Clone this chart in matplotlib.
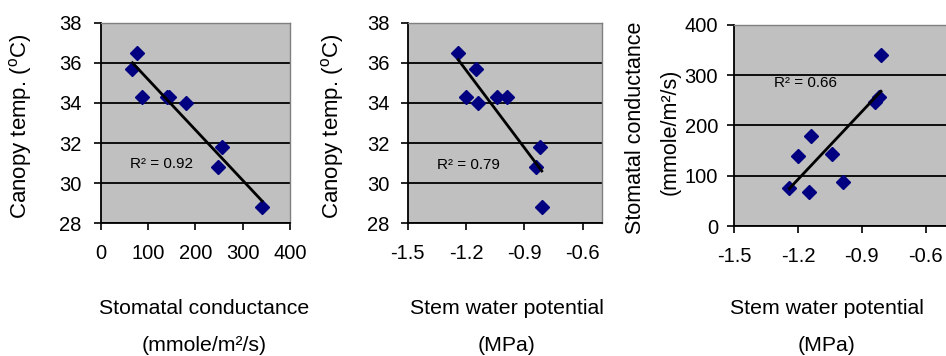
import numpy as np
import matplotlib
matplotlib.use("Agg")
from matplotlib import pyplot as plt

plt.rcParams['font.family'] = ['Liberation Sans', 'DejaVu Sans']
plt.rcParams['mathtext.fontset'] = 'custom'
plt.rcParams['mathtext.rm'] = 'Liberation Sans'
plt.rcParams['mathtext.it'] = 'Liberation Sans'

# measured samples (one per plant)
stem_water_potential = [-1.24, -1.20, -1.15, -1.14, -1.04, -0.99, -0.84, -0.82, -0.81]   # MPa
stomatal_conductance = [76, 140, 67, 180, 144, 88, 247, 256, 341]                         # mmole/m2/s
canopy_temp = [36.5, 34.3, 35.7, 34.0, 34.3, 34.3, 30.8, 31.8, 28.8]                       # degC

r2_labels = ["R² = 0.92", "R² = 0.79", "R² = 0.66"]

W, H = 946, 356
fig = plt.figure(figsize=(W / 100, H / 100), dpi=100)


def px_axes(left, top, right, bottom):
    return fig.add_axes([left / W, 1 - bottom / H, (right - left) / W, (bottom - top) / H])


def style(ax, ypad):
    ax.set_facecolor('#c0c0c0')
    for s in ['top', 'right']:
        ax.spines[s].set_color('#808080')
        ax.spines[s].set_linewidth(1.0)
    for s in ['left', 'bottom']:
        ax.spines[s].set_color('black')
        ax.spines[s].set_linewidth(1.3)
    ax.grid(axis='y', color='black', linewidth=1.3)
    ax.set_axisbelow(True)
    ax.tick_params(axis='x', direction='out', length=5, width=1.2, pad=10, labelsize=14.5)
    ax.tick_params(axis='y', direction='out', length=5, width=1.2, pad=ypad, labelsize=14.5)


def scatter_fit(ax, x, y, label, lx, ly):
    x = np.array(x)
    y = np.array(y)
    ax.plot(x, y, 'D', color='#000080', markersize=7, zorder=3, clip_on=False)
    k, b = np.polyfit(x, y, 1)
    xs = np.array([x.min(), x.max()])
    ax.plot(xs, k * xs + b, color='black', linewidth=2.0, zorder=4)
    ax.text(lx, ly, label, fontsize=11, va='center', ha='left', zorder=5)


# panel 1: canopy temp vs stomatal conductance
ax1 = px_axes(100.7, 22.7, 290, 223.3)
style(ax1, 9)
scatter_fit(ax1, stomatal_conductance, canopy_temp, r2_labels[0], 62, 30.95)
ax1.set_xlim(0, 400)
ax1.set_ylim(28, 38)
ax1.set_xticks([0, 100, 200, 300, 400])
ax1.set_yticks([28, 30, 32, 34, 36, 38])

# panel 2: canopy temp vs stem water potential
ax2 = px_axes(407.7, 22.7, 602, 223.3)
style(ax2, 8)
scatter_fit(ax2, stem_water_potential, canopy_temp, r2_labels[1], -1.35, 30.9)
ax2.set_xlim(-1.5, -0.5)
ax2.set_ylim(28, 38)
ax2.set_xticks([-1.5, -1.2, -0.9, -0.6])
ax2.set_xticklabels(['-1.5', '-1.2', '-0.9', '-0.6'])
ax2.set_yticks([28, 30, 32, 34, 36, 38])

# panel 3: stomatal conductance vs stem water potential
ax3 = px_axes(734, 25, 947, 226)
style(ax3, 6.5)
scatter_fit(ax3, stem_water_potential, stomatal_conductance, r2_labels[2], -1.31, 284)
ax3.set_xlim(-1.5, -0.5)
ax3.set_ylim(0, 400)
ax3.set_xticks([-1.5, -1.2, -0.9, -0.6])
ax3.set_xticklabels(['-1.5', '-1.2', '-0.9', '-0.6'])
ax3.set_yticks([0, 100, 200, 300, 400])

fs = 16
ylab = 'Canopy temp. ($^{\\mathrm{o}}$C)'
fig.text(21 / W, 1 - 126 / H, ylab, rotation=90, fontsize=fs, ha='center', va='center')
fig.text(332 / W, 1 - 126 / H, ylab, rotation=90, fontsize=fs, ha='center', va='center')
fig.text(635 / W, 1 - 128 / H, 'Stomatal conductance', rotation=90, fontsize=15.5, ha='center', va='center')
fig.text(670 / W, 1 - 132 / H, '(mmole/m²/s)', rotation=90, fontsize=15.5, ha='center', va='center')

xlabels = [('Stomatal conductance', '(mmole/m²/s)', 204),
           ('Stem water potential', '(MPa)', 507),
           ('Stem water potential', '(MPa)', 827)]
for l1, l2, cx in xlabels:
    fig.text(cx / W, 1 - 314 / H, l1, fontsize=15.3, ha='center', va='baseline')
    fig.text(cx / W, 1 - 351 / H, l2, fontsize=15.3, ha='center', va='baseline')

fig.savefig('out.png', dpi=100)
